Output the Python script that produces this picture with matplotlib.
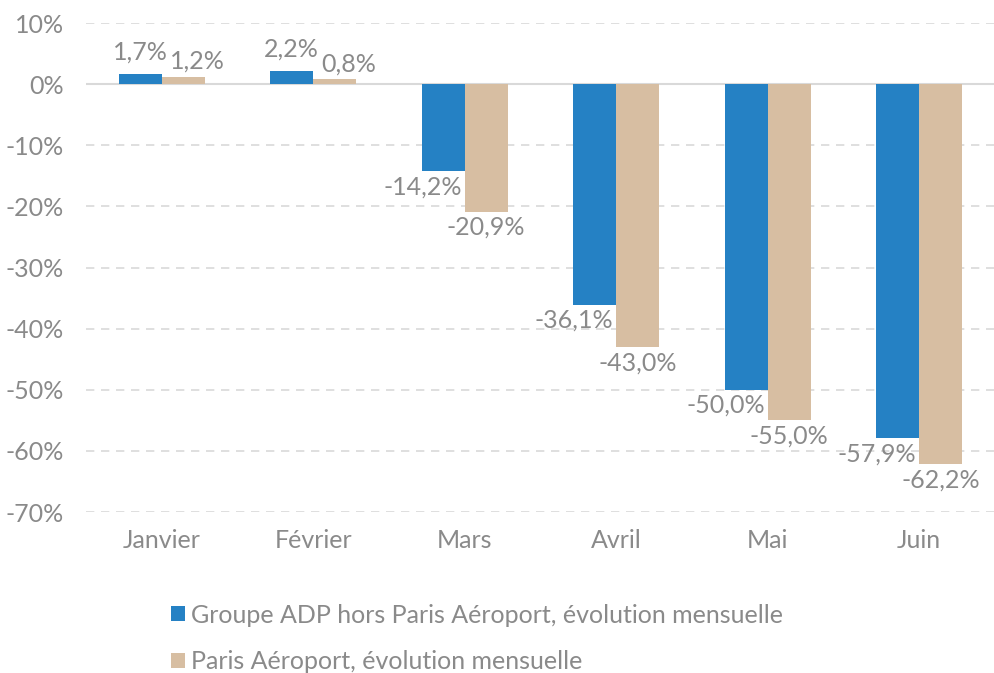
import matplotlib
matplotlib.use("Agg")
import matplotlib.pyplot as plt
import numpy as np

# data
mois = ["Janvier", "Février", "Mars", "Avril", "Mai", "Juin"]
groupe_adp = [1.7, 2.2, -14.2, -36.1, -50.0, -57.9]
paris_aeroport = [1.2, 0.8, -20.9, -43.0, -55.0, -62.2]
nom_series = ["Groupe ADP hors Paris Aéroport, évolution mensuelle",
              "Paris Aéroport, évolution mensuelle"]

BLEU = "#2581C4"
BEIGE = "#D7BEA2"
GRIS = "#8A8A8A"

plt.rcParams["font.family"] = ["Lato", "DejaVu Sans"]

fig = plt.figure(figsize=(9.95, 6.73), dpi=100)
ax = fig.add_axes([0.0864, 0.2392, 0.9136, 0.7266])

x = np.arange(len(mois))
w = 0.284
b1 = ax.bar(x - w / 2, groupe_adp, w, color=BLEU, label=nom_series[0], zorder=3)
b2 = ax.bar(x + w / 2, paris_aeroport, w, color=BEIGE, label=nom_series[1], zorder=3)

def fmt(v):
    return f"{v:.1f}%".replace(".", ",")

fs = 18
for xi, v in zip(x, groupe_adp):
    if v >= 0:
        ax.annotate(fmt(v), (xi - w / 2, v), xytext=(0, 7), textcoords="offset points",
                    ha="center", va="bottom", color=GRIS, fontsize=fs)
    else:
        ax.annotate(fmt(v), (xi, v), xytext=(-2, -3), textcoords="offset points",
                    ha="right", va="top", color=GRIS, fontsize=fs)
for xi, v in zip(x, paris_aeroport):
    if v >= 0:
        ax.annotate(fmt(v), (xi + w / 2, v), xytext=(10, 3), textcoords="offset points",
                    ha="center", va="bottom", color=GRIS, fontsize=fs)
    else:
        ax.annotate(fmt(v), (xi + w / 2, v), xytext=(0, -3), textcoords="offset points",
                    ha="center", va="top", color=GRIS, fontsize=fs)

ax.set_xlim(-0.5, len(mois) - 0.5)
ax.set_ylim(-70, 10)
ax.set_yticks(np.arange(-70, 11, 10))
ax.set_yticklabels([f"{t}%" for t in range(-70, 11, 10)])
ax.set_xticks(x)
ax.set_xticklabels(mois)
ax.tick_params(length=0, colors=GRIS, labelsize=fs)
ax.tick_params(axis="y", pad=16)
ax.tick_params(axis="x", pad=12)

for s in ax.spines.values():
    s.set_visible(False)
ax.yaxis.grid(True, linestyle=(0, (5, 4)), color="#D9D9D9", linewidth=1.2, zorder=0)
ax.axhline(0, color="#D9D9D9", linewidth=1.5, zorder=2)

leg = fig.legend(handles=[b1, b2], loc="upper left", bbox_to_anchor=(0.172, 0.103),
                 frameon=False, fontsize=fs, labelcolor=GRIS, handlelength=0.55,
                 handleheight=0.55, handletextpad=0.25, labelspacing=0.95,
                 borderaxespad=0, borderpad=0)

fig.savefig("out.png", dpi=100)
